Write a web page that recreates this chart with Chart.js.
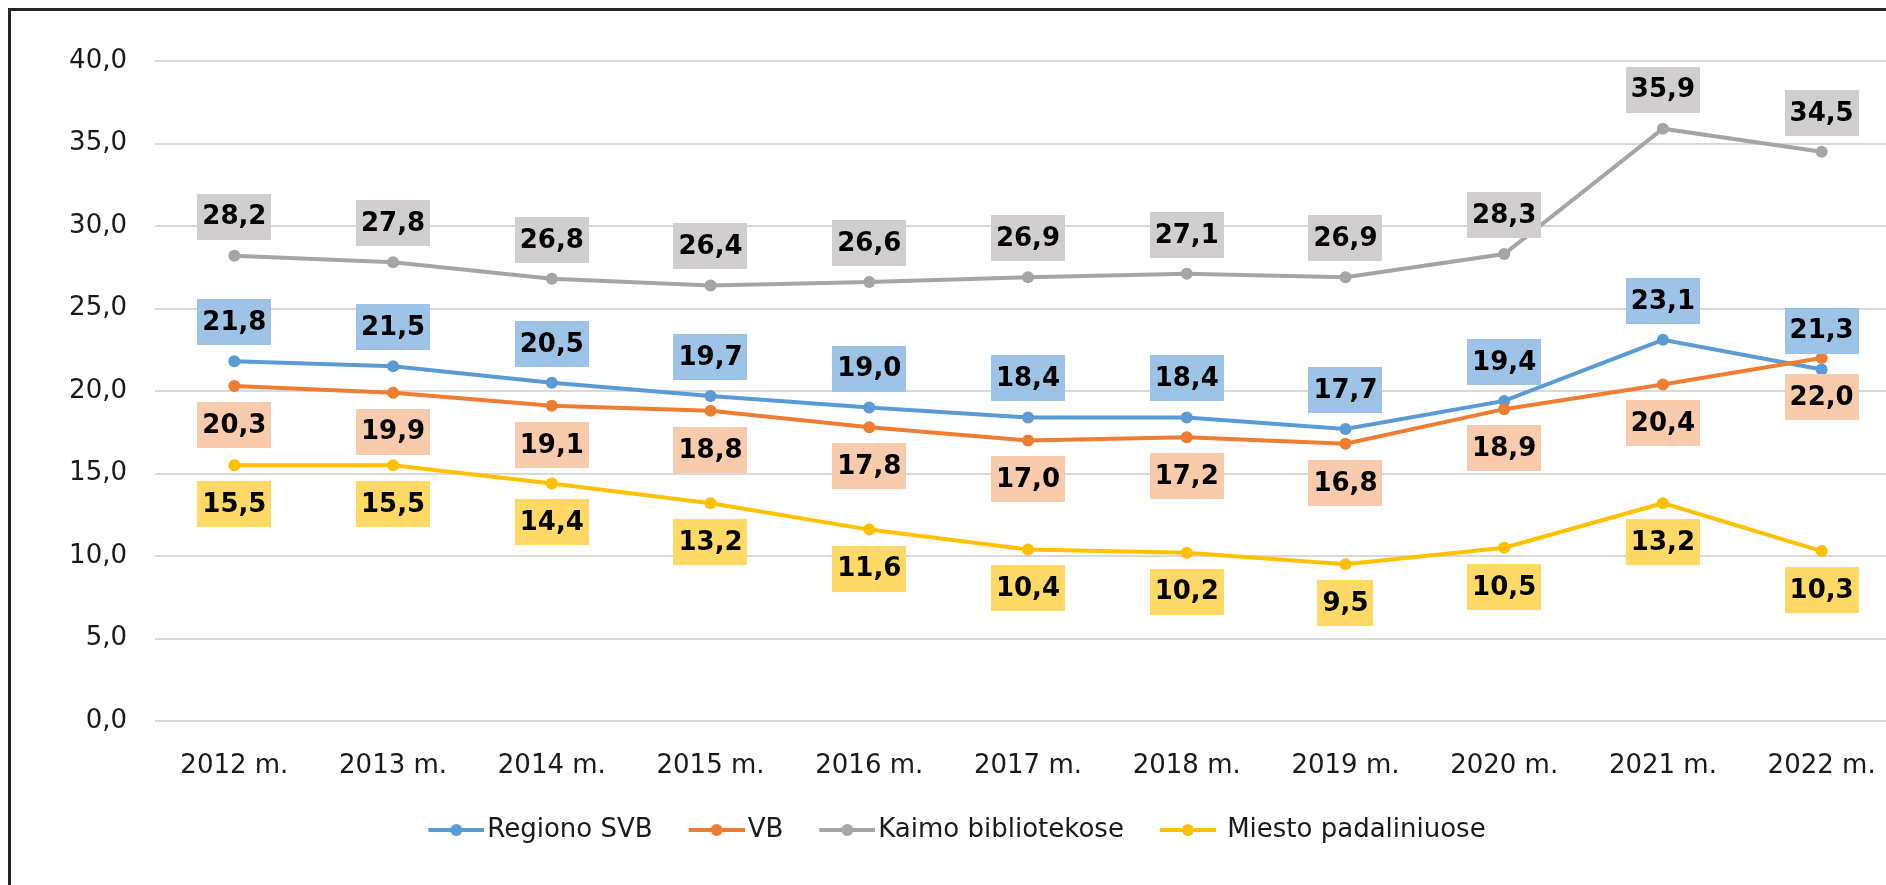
<!DOCTYPE html>
<html>
<head>
<meta charset="utf-8">
<script src="https://cdn.jsdelivr.net/npm/chart.js@4.4.1/dist/chart.umd.min.js"></script>
<style>
    html, body { margin: 0; padding: 0; background: #fff; overflow: hidden; }
    #wrap { position: relative; width: 1886px; height: 885px; overflow: hidden; }
    #chart { position: absolute; left: 0; top: 0; }
    #frame {
        position: absolute; left: 8px; top: 8px; width: 2000px; height: 1000px;
        border-left: 3px solid #262626; border-top: 3px solid #262626;
        box-sizing: border-box; pointer-events: none;
    }
</style>
</head>
<body>
<div id="wrap">
    <canvas id="chart" width="1916" height="885"></canvas>
    <div id="frame"></div>
</div>
<script>
// Data
const years = ['2012 m.', '2013 m.', '2014 m.', '2015 m.', '2016 m.', '2017 m.', '2018 m.', '2019 m.', '2020 m.', '2021 m.', '2022 m.'];
const regionoSvb = [21.8, 21.5, 20.5, 19.7, 19.0, 18.4, 18.4, 17.7, 19.4, 23.1, 21.3];
const vb = [20.3, 19.9, 19.1, 18.8, 17.8, 17.0, 17.2, 16.8, 18.9, 20.4, 22.0];
const kaimo = [28.2, 27.8, 26.8, 26.4, 26.6, 26.9, 27.1, 26.9, 28.3, 35.9, 34.5];
const miesto = [15.5, 15.5, 14.4, 13.2, 11.6, 10.4, 10.2, 9.5, 10.5, 13.2, 10.3];
const seriesNames = ['Regiono SVB', 'VB', 'Kaimo bibliotekose', ' Miesto padaliniuose'];
const yMin = 0, yMax = 40, yStep = 5;

// Excel-like palette
const colors = {
    blue: '#5B9BD5',
    orange: '#ED7D31',
    gray: '#A5A5A5',
    yellow: '#FFC000',
    blueBox: '#9DC3E6',
    orangeBox: '#F8CBAD',
    grayBox: '#D0CECE',
    yellowBox: '#FFD966',
    text: '#1a1a1a',
    grid: '#D9D9D9'
};

const FONT = "'DejaVu Sans', sans-serif";
Chart.defaults.font.family = FONT;
Chart.defaults.color = colors.text;

const fmt = v => v.toFixed(1).replace('.', ',');

// label box colour and side (above = -1, below = +1) per series
const labelBoxes = [colors.blueBox, colors.orangeBox, colors.grayBox, colors.yellowBox];
const labelSide = [-1, 1, -1, 1];

// Legend marker: line with a dot, right-aligned inside a wider transparent image
const MARK_BOX = 42;
function legendMarker(color) {
    const c = document.createElement('canvas');
    c.width = MARK_BOX + 20;
    c.height = 14;
    const g = c.getContext('2d');
    const x0 = c.width - 56;
    g.strokeStyle = color;
    g.lineWidth = 4;
    g.beginPath();
    g.moveTo(x0, 7);
    g.lineTo(c.width, 7);
    g.stroke();
    g.fillStyle = color;
    g.beginPath();
    g.arc(x0 + 28, 7, 6, 0, Math.PI * 2);
    g.fill();
    return c;
}

// Boxed value labels
const valueLabels = {
    id: 'valueLabels',
    afterDatasetsDraw(chart) {
        const ctx = chart.ctx;
        ctx.save();
        ctx.font = 'bold 26px ' + FONT;
        ctx.textAlign = 'center';
        ctx.textBaseline = 'middle';
        chart.data.datasets.forEach((ds, i) => {
            const meta = chart.getDatasetMeta(i);
            meta.data.forEach((pt, j) => {
                const text = fmt(ds.data[j]);
                const w = ctx.measureText(text).width + 10;
                const h = 46;
                const cy = pt.y + labelSide[i] * 39;
                ctx.fillStyle = labelBoxes[i];
                ctx.fillRect(Math.round(pt.x - w / 2), Math.round(cy - h / 2), Math.round(w), h);
                ctx.fillStyle = '#000';
                ctx.fillText(text, pt.x, cy + 1);
            });
        });
        ctx.restore();
    }
};

function makeDataset(label, data, color, order) {
    return {
        label: label,
        data: data,
        borderColor: color,
        backgroundColor: color,
        borderWidth: 4,
        pointRadius: 6,
        pointBackgroundColor: color,
        pointBorderWidth: 0,
        tension: 0,
        fill: false,
        order: order
    };
}

const lineColors = [colors.blue, colors.orange, colors.gray, colors.yellow];
const markers = lineColors.map(legendMarker);

new Chart(document.getElementById('chart'), {
    type: 'line',
    data: {
        labels: years,
        datasets: [
            makeDataset(seriesNames[0], regionoSvb, colors.blue, 3),
            makeDataset(seriesNames[1], vb, colors.orange, 2),
            makeDataset(seriesNames[2], kaimo, colors.gray, 1),
            makeDataset(seriesNames[3], miesto, colors.yellow, 0)
        ]
    },
    options: {
        responsive: false,
        devicePixelRatio: 1,
        animation: false,
        layout: {
            padding: { left: 17, right: 15, top: 61, bottom: 32 }
        },
        plugins: {
            tooltip: { enabled: false },
            legend: {
                position: 'bottom',
                labels: {
                    usePointStyle: true,
                    pointStyleWidth: MARK_BOX,
                    padding: 40,
                    font: { size: 26 },
                    color: colors.text,
                    generateLabels: chart => chart.data.datasets.map((ds, i) => ({
                        text: ds.label,
                        pointStyle: markers[i],
                        fillStyle: ds.borderColor,
                        strokeStyle: ds.borderColor,
                        lineWidth: 0,
                        hidden: false,
                        fontColor: colors.text,
                        datasetIndex: i
                    }))
                }
            }
        },
        scales: {
            x: {
                offset: true,
                grid: { display: false },
                border: { display: false },
                ticks: {
                    padding: 22,
                    font: { size: 26 },
                    color: colors.text,
                    maxRotation: 0,
                    autoSkip: false
                },
                afterFit: scale => { scale.height = 56; }
            },
            y: {
                min: yMin,
                max: yMax,
                grid: { color: colors.grid, lineWidth: 2, drawTicks: false },
                border: { display: false },
                ticks: {
                    stepSize: yStep,
                    padding: 28,
                    font: { size: 26 },
                    color: colors.text,
                    callback: v => fmt(v)
                },
                afterFit: scale => { scale.width = 138; }
            }
        }
    },
    plugins: [valueLabels]
});
</script>
</body>
</html>
